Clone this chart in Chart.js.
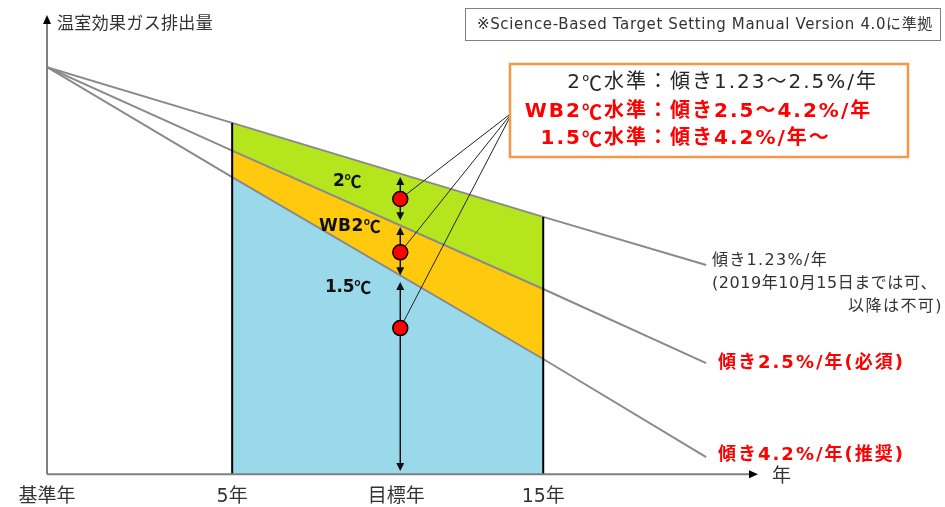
<!DOCTYPE html>
<html><head><meta charset="utf-8">
<script src="https://cdn.jsdelivr.net/npm/chart.js@4/dist/chart.umd.min.js"></script>
<style>html,body{margin:0;padding:0;background:#fff;overflow:hidden}</style>
</head><body>
<canvas id="c" width="945" height="507"></canvas>
<script>
// ---- data (schematic units) ----
const tickValues = [0, 5, 9.43, 13.4];
const tickLabels = ['基準年', '5年', '目標年', '15年'];
const lineX = [0, 5, 13.4, 17.8];
const slope123 = [100, 86.3, 63.2, 51.4];
const slope25 = [100, 79.5, 45.5, 27.3];
const slope42 = [100, 73.0, 28.3, 4.2];
const targetX = 9.54;
const circleY = [67.6, 54.5, 35.9];
const arrowSpans = [[73.0, 62.4], [60.7, 48.9], [47.2, 0.8]];
const apexPoint = [12.57, 88.9];
const xMax = 19.2, yMax = 112.8;

const FONT = '"DejaVu Sans","Noto Sans CJK JP",sans-serif';
const CJK = '"Noto Sans CJK JP",sans-serif';
const pts = ys => lineX.map((x, i) => ({x, y: ys[i]}));

const base = {pointRadius: 0, pointHoverRadius: 0, tension: 0};
const datasets = [
  {...base, data: pts(slope123).slice(1, 3), fill: {target: 1}, backgroundColor: '#B5E61D', borderWidth: 0, order: 10},
  {...base, data: pts(slope25).slice(1, 3), fill: {target: 2}, backgroundColor: '#FFC90E', borderWidth: 0, order: 10},
  {...base, data: pts(slope42).slice(1, 3), fill: 'origin', backgroundColor: '#99D9EA', borderWidth: 0, order: 10},
  {...base, data: pts(slope123), fill: false, borderColor: '#8a8a8a', borderWidth: 2, order: 8},
  {...base, data: pts(slope25), fill: false, borderColor: '#8a8a8a', borderWidth: 2, order: 8},
  {...base, data: pts(slope42), fill: false, borderColor: '#8a8a8a', borderWidth: 2, order: 8},
  {...base, data: [{x: lineX[1], y: 0}, {x: lineX[1], y: slope123[1]}], fill: false, borderColor: '#000', borderWidth: 2, order: 7},
  {...base, data: [{x: lineX[2], y: 0}, {x: lineX[2], y: slope123[2]}], fill: false, borderColor: '#000', borderWidth: 2, order: 7},
];
circleY.forEach(cy => datasets.push({...base, data: [{x: apexPoint[0], y: apexPoint[1]}, {x: targetX, y: cy}], fill: false, borderColor: '#222', borderWidth: 1, order: 5}));
const circleIndex = datasets.length;
datasets.push({data: circleY.map(y => ({x: targetX, y})), showLine: false, fill: false, pointRadius: 7.5, pointHoverRadius: 7.5,
  pointBackgroundColor: '#FF0000', pointBorderColor: '#000', pointBorderWidth: 1.5, order: 1});

// draws text fitted to a target width; the ℃ sign is taken from the CJK font
function fitText(ctx, text, x, y, w, font, color, align) {
  ctx.save();
  ctx.fillStyle = color; ctx.textBaseline = 'middle'; ctx.textAlign = 'left';
  ctx.letterSpacing = '0px';
  const runs = text.split(/(℃)/).filter(s => s.length);
  const fontFor = r => r === '℃' ? font.replace(FONT, CJK) : font;
  let m = 0;
  runs.forEach(r => { ctx.font = fontFor(r); m += ctx.measureText(r).width; });
  const n = [...text].length;
  let ls = n > 1 ? (w - m) / n : 0;
  ls = Math.max(-2, Math.min(2, ls));
  const real = m + ls * n;
  let cx = align === 'right' ? x - real : (align === 'center' ? x - real / 2 : x);
  ctx.letterSpacing = ls + 'px';
  runs.forEach(r => {
    ctx.font = fontFor(r);
    ctx.fillText(r, cx, y);
    ctx.letterSpacing = '0px';
    const wr = ctx.measureText(r).width + ls * [...r].length;
    ctx.letterSpacing = ls + 'px';
    cx += wr;
  });
  ctx.restore();
}
function tri(ctx, x, y, dir, w, h) {
  ctx.beginPath();
  if (dir === 'up') { ctx.moveTo(x, y); ctx.lineTo(x - w / 2, y + h); ctx.lineTo(x + w / 2, y + h); }
  else if (dir === 'down') { ctx.moveTo(x, y); ctx.lineTo(x - w / 2, y - h); ctx.lineTo(x + w / 2, y - h); }
  else { ctx.moveTo(x, y); ctx.lineTo(x - h, y - w / 2); ctx.lineTo(x - h, y + w / 2); }
  ctx.closePath(); ctx.fill();
}

const deco = {
  id: 'deco',
  beforeDatasetDraw(chart, args) {
    if (args.index !== circleIndex) return;
    const ctx = chart.ctx, xs = chart.scales.x, ys = chart.scales.y;
    const px = xs.getPixelForValue(targetX);
    ctx.save();
    ctx.strokeStyle = '#111'; ctx.fillStyle = '#111'; ctx.lineWidth = 1.5;
    arrowSpans.forEach(([a, b]) => {
      const y1 = ys.getPixelForValue(a), y2 = ys.getPixelForValue(b);
      ctx.beginPath(); ctx.moveTo(px, y1 + 6); ctx.lineTo(px, y2 - 6); ctx.stroke();
      tri(ctx, px, y1, 'up', 8, 8);
      tri(ctx, px, y2, 'down', 8, 8);
    });
    const ax = xs.getPixelForValue(apexPoint[0]), ay = ys.getPixelForValue(apexPoint[1]);
    ctx.save(); ctx.translate(ax, ay); ctx.rotate(-0.6);
    ctx.beginPath(); ctx.moveTo(4, 0); ctx.lineTo(-2, -2.5); ctx.lineTo(-2, 2.5); ctx.closePath(); ctx.fill();
    ctx.restore();
    ctx.restore();
  },
  afterDraw(chart) {
    const ctx = chart.ctx, a = chart.chartArea;
    ctx.save();
    ctx.strokeStyle = '#7f7f7f'; ctx.lineWidth = 2; ctx.fillStyle = '#000';
    ctx.beginPath(); ctx.moveTo(a.left, a.bottom); ctx.lineTo(a.left, a.top + 6); ctx.stroke();
    tri(ctx, a.left, a.top, 'up', 8, 9);
    ctx.beginPath(); ctx.moveTo(a.left, a.bottom); ctx.lineTo(a.right - 6, a.bottom); ctx.stroke();
    tri(ctx, a.right, a.bottom, 'right', 8, 9);
    ctx.restore();

    fitText(ctx, '温室効果ガス排出量', 57, 25, 156, '17px ' + FONT, '#333');
    fitText(ctx, '年', 772, 477, 18, '19px ' + FONT, '#333');

    ctx.save();
    ctx.fillStyle = '#fff'; ctx.fillRect(465, 8, 475, 32);
    ctx.strokeStyle = '#808080'; ctx.lineWidth = 1; ctx.strokeRect(465.5, 8.5, 475, 32);
    ctx.restore();
    fitText(ctx, '※Science-Based Target Setting Manual Version 4.0に準拠', 477, 25, 456, '15px ' + FONT, '#333');

    ctx.save();
    ctx.fillStyle = '#fff'; ctx.fillRect(510, 64, 398, 93);
    ctx.strokeStyle = '#F79646'; ctx.lineWidth = 2.5; ctx.strokeRect(510, 64, 398, 93);
    ctx.restore();
    fitText(ctx, '2℃水準', 648, 83, 83, '20px ' + FONT, '#262626', 'right');
    fitText(ctx, '：傾き1.23～2.5%/年', 648, 83, 237, '20px ' + FONT, '#262626');
    fitText(ctx, 'WB2℃水準', 648, 112, 126, 'bold 20px ' + FONT, '#FF0000', 'right');
    fitText(ctx, '：傾き2.5～4.2%/年', 648, 112, 234, 'bold 20px ' + FONT, '#FF0000');
    fitText(ctx, '1.5℃水準', 648, 139, 108, 'bold 20px ' + FONT, '#FF0000', 'right');
    fitText(ctx, '：傾き4.2%/年～', 648, 139, 192, 'bold 20px ' + FONT, '#FF0000');

    fitText(ctx, '2℃', 347, 182, 28, 'bold 17px ' + FONT, '#111', 'center');
    fitText(ctx, 'WB2℃', 350, 227, 62, 'bold 17px ' + FONT, '#111', 'center');
    fitText(ctx, '1.5℃', 348, 288, 46, 'bold 17px ' + FONT, '#111', 'center');

    fitText(ctx, '傾き1.23%/年', 712, 261, 116, '16px ' + FONT, '#333');
    fitText(ctx, '(2019年10月15日までは可、', 712, 284, 225, '16px ' + FONT, '#333');
    fitText(ctx, '以降は不可)', 943, 307, 95, '16px ' + FONT, '#333', 'right');
    fitText(ctx, '傾き2.5%/年(必須)', 718, 363, 192, 'bold 18px ' + FONT, '#FF0000');
    fitText(ctx, '傾き4.2%/年(推奨)', 718, 455, 192, 'bold 18px ' + FONT, '#FF0000');
  }
};

new Chart(document.getElementById('c'), {
  type: 'line',
  data: {datasets},
  options: {
    responsive: false, animation: false, events: [],
    layout: {padding: {left: 47, right: 187, top: 15, bottom: -12}},
    plugins: {legend: {display: false}, tooltip: {enabled: false}, filler: {propagate: false}},
    scales: {
      x: {type: 'linear', min: 0, max: xMax,
        grid: {display: false, drawTicks: false}, border: {display: false},
        afterBuildTicks: s => { s.ticks = tickValues.map(v => ({value: v})); },
        ticks: {autoSkip: false, maxRotation: 0, padding: 11, color: '#333', font: {size: 19, family: FONT},
          callback: (v, i) => tickLabels[i]}},
      y: {type: 'linear', min: 0, max: yMax, display: false}
    }
  },
  plugins: [deco]
});
</script>
</body></html>
